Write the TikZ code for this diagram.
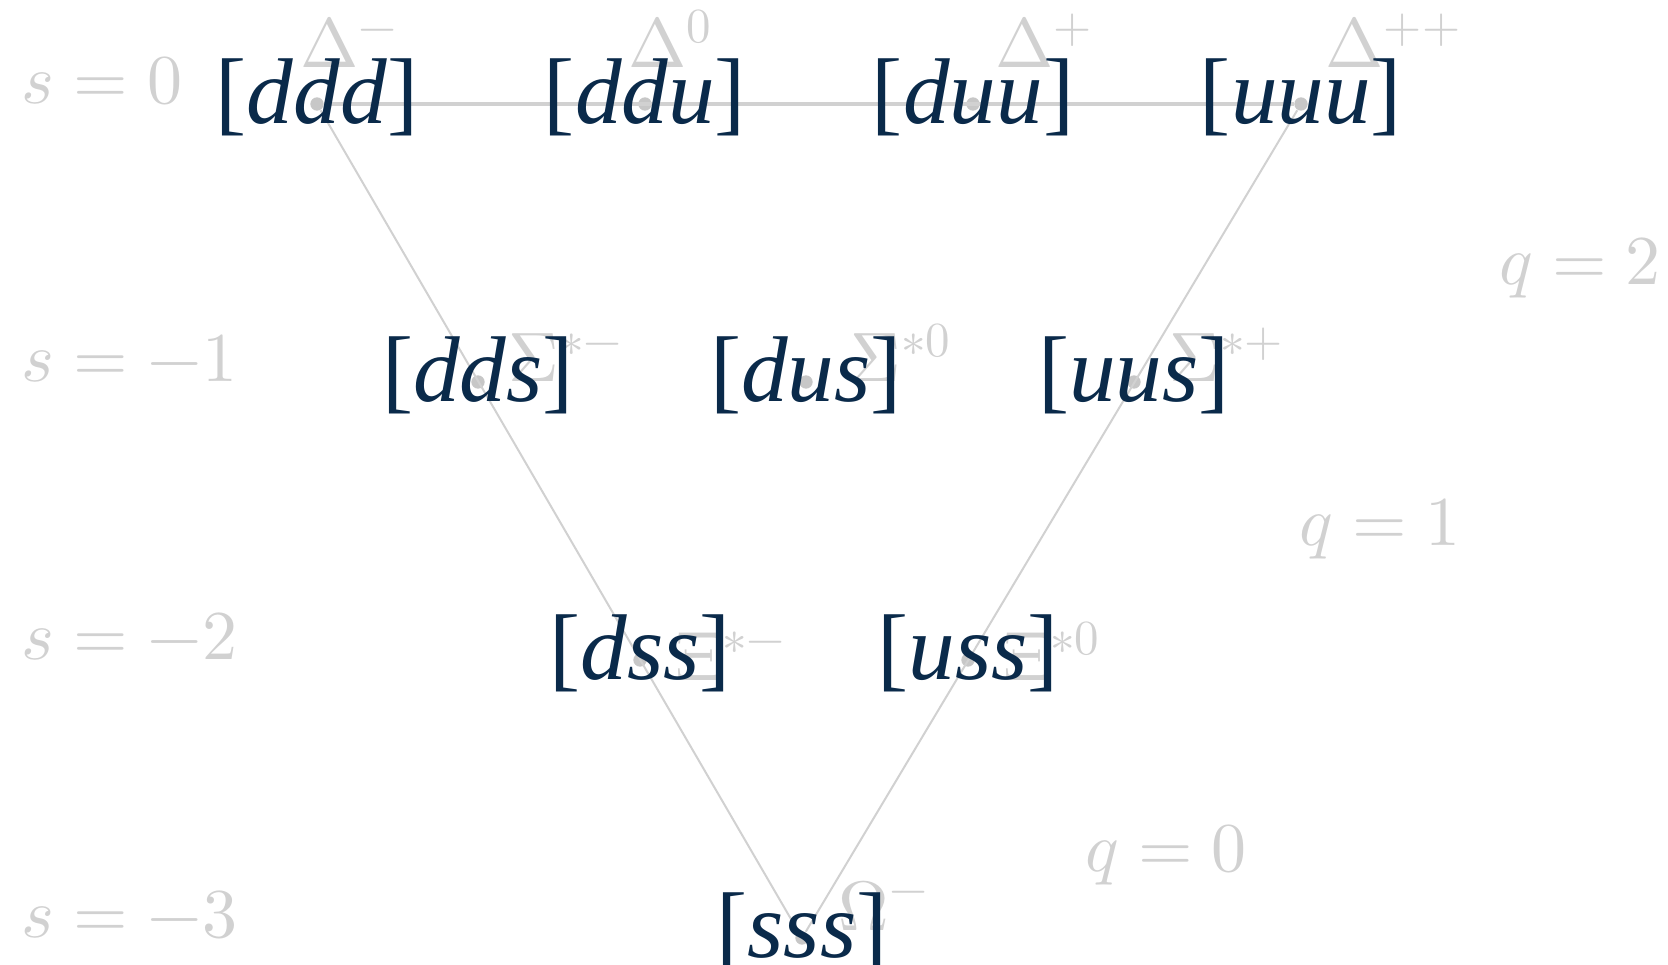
\documentclass[tikz,border=0pt]{standalone}
\usepackage{fontspec}
\usepackage{unicode-math}
\newfontfamily\quarkfont{Liberation Serif}
\newcommand{\qcontent}[1]{{\upshape[}\textit{#1}{\upshape]}}
\definecolor{quarkblue}{HTML}{0A2A4A}
\definecolor{faint}{gray}{0.82}
\definecolor{faintdot}{gray}{0.78}

\begin{document}
\begin{tikzpicture}[
  x=0.3pt,y=-0.3pt,
  every node/.style={inner sep=0pt},
  site/.style={circle,fill=faintdot,minimum size=4pt},
  plabel/.style={text=faint,font=\fontsize{21}{24}\selectfont,anchor=base west},
  slabel/.style={text=faint,font=\fontsize{21}{24}\selectfont},
  quark/.style={text=quarkblue,yshift=2pt,
    font=\quarkfont\fontsize{28}{30}\selectfont},
  multiplet/.style={draw=faint,line width=0.6pt}
 ]
  \useasboundingbox (0,0) rectangle (1668,965);
  % decuplet sites
  \node[site] (dm) at (317,104) {};
  \node[site] (dz) at (645,104) {};
  \node[site] (dp) at (973,104) {};
  \node[site] (dpp) at (1301,104) {};
  \node[site] (sm) at (478,382) {};
  \node[site] (sz) at (806,382) {};
  \node[site] (sp) at (1134,382) {};
  \node[site] (xm) at (640,660) {};
  \node[site] (xz) at (968,660) {};
  \node[site] (om) at (802,938) {};
  \draw[multiplet,line width=1.1pt] (dm) -- (dpp);
  \draw[multiplet] (dm) -- (om);
  \draw[multiplet] (dpp) -- (om);
  % particle names
  \node[plabel] (ldm) at (300,68) {$\Delta^-$};
  \node[plabel] (ldz) at (628,68) {$\Delta^0$};
  \node[plabel] (ldp) at (995,68) {$\Delta^+$};
  \node[plabel] (ldpp) at (1325,68) {$\Delta^{++}$};
  \node[plabel] (lsm) at (508,382) {$\Sigma^{*-}$};
  \node[plabel] (lsz) at (850,382) {$\Sigma^{*0}$};
  \node[plabel] (lsp) at (1169,382) {$\Sigma^{*+}$};
  \node[plabel] (lxm) at (675,680) {$\Xi^{*-}$};
  \node[plabel] (lxz) at (1003,680) {$\Xi^{*0}$};
  \node[plabel] (lom) at (838,930) {$\Omega^-$};
  % strangeness and charge
  \node[slabel,anchor=base west] (s0) at (21,104) {$s=0$};
  \node[slabel,anchor=base west] (s1) at (21,382) {$s=-1$};
  \node[slabel,anchor=base west] (s2) at (21,660) {$s=-2$};
  \node[slabel,anchor=base west] (s3) at (21,938) {$s=-3$};
  \node[slabel] (q2) at (1580,268) {$q=2$};
  \node[slabel] (q1) at (1380,529) {$q=1$};
  \node[slabel] (q0) at (1166,855) {$q=0$};
  % quark content
  \node[quark] (qddd) at (dm) {\qcontent{ddd}};
  \node[quark] (qddu) at (dz) {\qcontent{ddu}};
  \node[quark] (qduu) at (dp) {\qcontent{duu}};
  \node[quark] (quuu) at (dpp) {\qcontent{uuu}};
  \node[quark] (qdds) at (sm) {\qcontent{dds}};
  \node[quark] (qdus) at (sz) {\qcontent{dus}};
  \node[quark] (quus) at (sp) {\qcontent{uus}};
  \node[quark] (qdss) at (xm) {\qcontent{dss}};
  \node[quark] (quss) at (xz) {\qcontent{uss}};
  \node[quark] (qsss) at (om) {\qcontent{sss}};
\end{tikzpicture}
\end{document}
